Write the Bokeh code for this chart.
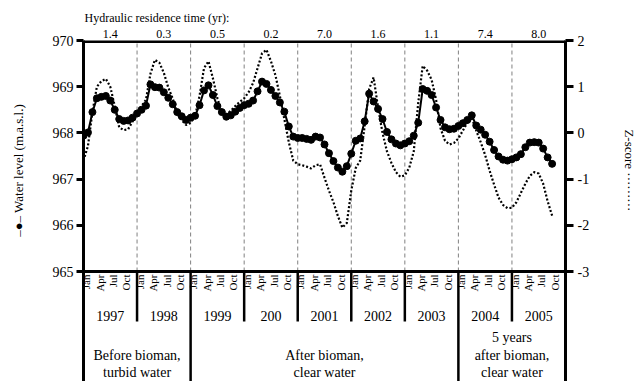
import math
from bokeh.plotting import figure
from bokeh.models import Range1d, LinearAxis, FixedTicker
from bokeh.core.properties import value
from bokeh.embed import file_html
from bokeh.resources import INLINE

# ---------------- data ----------------
years = ["1997", "1998", "1999", "200", "2001", "2002", "2003", "2004", "2005"]
residence_time = ["1.4", "0.3", "0.5", "0.2", "7.0", "1.6", "1.1", "7.4", "8.0"]
month_names = ["Jan", "Apr", "Jul", "Oct"]
month_of_label = [0, 3, 6, 9]

# monthly water level (m.a.s.l.), Jan 1997 ... Oct 2005
water_level = [
    967.94, 968.01, 968.45, 968.75, 968.78, 968.80, 968.70, 968.50, 968.30, 968.26, 968.27, 968.33,
    968.42, 968.50, 968.59, 969.05, 968.99, 968.98, 968.88, 968.76, 968.62, 968.45, 968.36, 968.28,
    968.33, 968.37, 968.60, 968.92, 969.03, 968.82, 968.58, 968.45, 968.35, 968.38, 968.46, 968.54,
    968.60, 968.63, 968.70, 968.90, 969.11, 969.06, 968.93, 968.80, 968.66, 968.46, 968.14, 967.92,
    967.89, 967.89, 967.87, 967.85, 967.92, 967.90, 967.75, 967.56, 967.39, 967.25, 967.16, 967.28,
    967.55, 967.83, 967.88, 968.25, 968.85, 968.68, 968.52, 968.30, 968.02, 967.86, 967.77, 967.73,
    967.77, 967.82, 967.94, 968.22, 968.95, 968.91, 968.82, 968.55, 968.28, 968.12, 968.08, 968.09,
    968.15, 968.21, 968.28, 968.38, 968.16, 968.07, 967.96, 967.81, 967.63, 967.49, 967.42, 967.40,
    967.43, 967.47, 967.54, 967.69, 967.79, 967.80, 967.79, 967.66, 967.47, 967.33,
]

# monthly Z-score, Jan 1997 ... Oct 2005
z_score = [
    -0.60, -0.28, 0.45, 1.00, 1.12, 1.17, 1.00, 0.58, 0.12, 0.06, 0.08, 0.25,
    0.44, 0.58, 0.72, 1.28, 1.58, 1.52, 1.30, 0.98, 0.74, 0.42, 0.28, 0.17,
    0.22, 0.36, 0.80, 1.40, 1.55, 1.18, 0.75, 0.45, 0.40, 0.48, 0.58, 0.67,
    0.75, 0.88, 1.08, 1.40, 1.72, 1.80, 1.55, 1.25, 0.80, 0.30, -0.20, -0.60,
    -0.68, -0.70, -0.73, -0.77, -0.70, -0.68, -0.97, -1.25, -1.50, -1.80, -2.05, -1.95,
    -1.25, -0.76, -0.60, 0.15, 0.95, 1.20, 0.55, 0.00, -0.40, -0.65, -0.85, -0.95,
    -0.92, -0.75, -0.40, 0.65, 1.45, 1.35, 1.15, 0.72, 0.10, -0.17, -0.25, -0.22,
    -0.12, 0.05, 0.22, 0.33, 0.05, -0.20, -0.48, -0.82, -1.12, -1.40, -1.56, -1.63,
    -1.62, -1.50, -1.30, -1.10, -0.93, -0.85, -0.88, -1.10, -1.48, -1.79,
]

period_lines = [["Before bioman,", "turbid water"],
                ["After bioman,", "clear water"],
                ["5 years", "after bioman,", "clear water"]]
period_bounds = [(0, 24), (24, 84), (84, 108)]

FONT = "Liberation Serif"
PX_PER_M = 46.2
Y_TOP = 970.0
Y_BOT = 965.0 - 110 / PX_PER_M
NBSP = "\u00a0"

p = figure(width=644, height=381, output_backend="svg", toolbar_location=None,
           x_range=Range1d(0, 108), y_range=Range1d(Y_BOT, Y_TOP),
           x_axis_location=None, y_axis_location="left",
           min_border_left=83, min_border_right=79, min_border_top=40, min_border_bottom=0,
           title="Hydraulic residence time (yr):")
p.outline_line_color = None
p.xgrid.visible = False
p.ygrid.visible = False
p.background_fill_color = "white"
p.border_fill_color = "white"

p.title.align = "left"
p.title.text_font = FONT
p.title.text_font_size = "12px"
p.title.text_font_style = "normal"
p.title.text_color = "black"
p.title.standoff = 4
p.title.offset = 1

# top axis: residence time per year
tax = LinearAxis(ticker=FixedTicker(ticks=[12 * k + 6 for k in range(len(years))]))
tax.major_label_overrides = {12 * k + 6: r for k, r in enumerate(residence_time)}
tax.axis_line_color = None
tax.major_tick_line_color = None
tax.minor_tick_line_color = None
tax.major_tick_out = 0
tax.major_tick_in = 0
tax.major_label_standoff = 3
tax.major_label_text_font = FONT
tax.major_label_text_font_size = "12px"
tax.major_label_text_color = "black"
p.add_layout(tax, "above")

# left axis
yax = p.yaxis[0]
yax.ticker = FixedTicker(ticks=[965, 966, 967, 968, 969, 970])
yax.axis_line_width = 3
yax.axis_line_color = "black"
yax.major_tick_line_width = 3
yax.major_tick_out = 7
yax.major_tick_in = 0
yax.minor_tick_line_color = None
yax.major_label_text_font = FONT
yax.major_label_text_font_size = "14px"
yax.major_label_text_color = "black"
yax.major_label_standoff = 3
yax.axis_label = NBSP * 25 + "\u2013\u25cf\u2013 Water level (m.a.s.l.)"
yax.axis_label_text_font = FONT
yax.axis_label_text_font_size = "13px"
yax.axis_label_text_font_style = "normal"
yax.axis_label_text_color = "black"
yax.axis_label_standoff = 24

# right axis (z-score)
p.extra_y_ranges = {"z": Range1d(Y_BOT - 968.0, Y_TOP - 968.0)}
zax = LinearAxis(y_range_name="z", ticker=FixedTicker(ticks=[-3, -2, -1, 0, 1, 2]))
zax.major_label_overrides = {-3: "-3", -2: "-2", -1: "-1", 0: "0", 1: "1", 2: "2"}
zax.axis_line_width = 3
zax.major_tick_line_width = 3
zax.major_tick_out = 8
zax.major_tick_in = 0
zax.minor_tick_line_color = None
zax.major_label_text_font = FONT
zax.major_label_text_font_size = "14px"
zax.major_label_text_color = "black"
zax.major_label_standoff = 4
zax.axis_label = "Z-score " + "\u00b7" * 9 + NBSP * 25
zax.axis_label_text_font = FONT
zax.axis_label_text_font_size = "13px"
zax.axis_label_text_font_style = "normal"
zax.axis_label_text_color = "black"
zax.axis_label_standoff = 30
p.add_layout(zax, "right")

n = len(water_level)
months = list(range(n))

# year dashed separators inside plot
inner_bounds = [12 * k for k in range(1, 9)]
p.segment(x0=inner_bounds, y0=[965] * 8, x1=inner_bounds, y1=[970] * 8,
          line_color="#808080", line_width=1, line_dash="4 3")

# top and bottom frame lines
p.segment(x0=[0, 0], y0=[970, 965], x1=[108, 108], y1=[970, 965],
          line_color="black", line_width=[5, 3])

# separators below axis
year_only = [b for b in inner_bounds if b not in (24, 84)]
p.segment(x0=year_only, y0=[965] * len(year_only), x1=year_only,
          y1=[965 - 50 / PX_PER_M] * len(year_only), line_color="black", line_width=2.5)
p.segment(x0=[24, 84], y0=[965, 965], x1=[24, 84], y1=[Y_BOT, Y_BOT],
          line_color="black", line_width=2.5)

# data series
p.line(months, z_score, y_range_name="z", line_color="black", line_width=2.2, line_dash="2 2")
p.line(months, water_level, line_color="black", line_width=2)
p.scatter(months, water_level, size=7, marker="circle", fill_color="black", line_color="black")

# month labels
mx, mt = [], []
for k in range(len(years)):
    for q, name in zip(month_of_label, month_names):
        mx.append(12 * k + q + 0.6)
        mt.append(name)
p.text(x=mx, y=[965 - 3 / PX_PER_M] * len(mx), text=mt, angle=math.pi / 2,
       text_align="right", text_baseline="middle", text_font=value(FONT),
       text_font_size="11px", text_color="black")

# year labels
p.text(x=[12 * k + 6 for k in range(len(years))], y=[965 - 44 / PX_PER_M] * len(years),
       text=years, text_align="center", text_baseline="middle", text_font=value(FONT),
       text_font_size="14px", text_color="black")

# period labels
for (a, b), lines in zip(period_bounds, period_lines):
    ys = [337, 355, 372] if len(lines) == 3 else [355, 372]
    p.text(x=[(a + b) / 2] * len(lines), y=[965 - (yy - 271) / PX_PER_M for yy in ys],
           text=lines, text_align="center", text_baseline="middle", text_font=value(FONT),
           text_font_size="14px", text_color="black")

open("out.html", "w").write(file_html(p, INLINE))
